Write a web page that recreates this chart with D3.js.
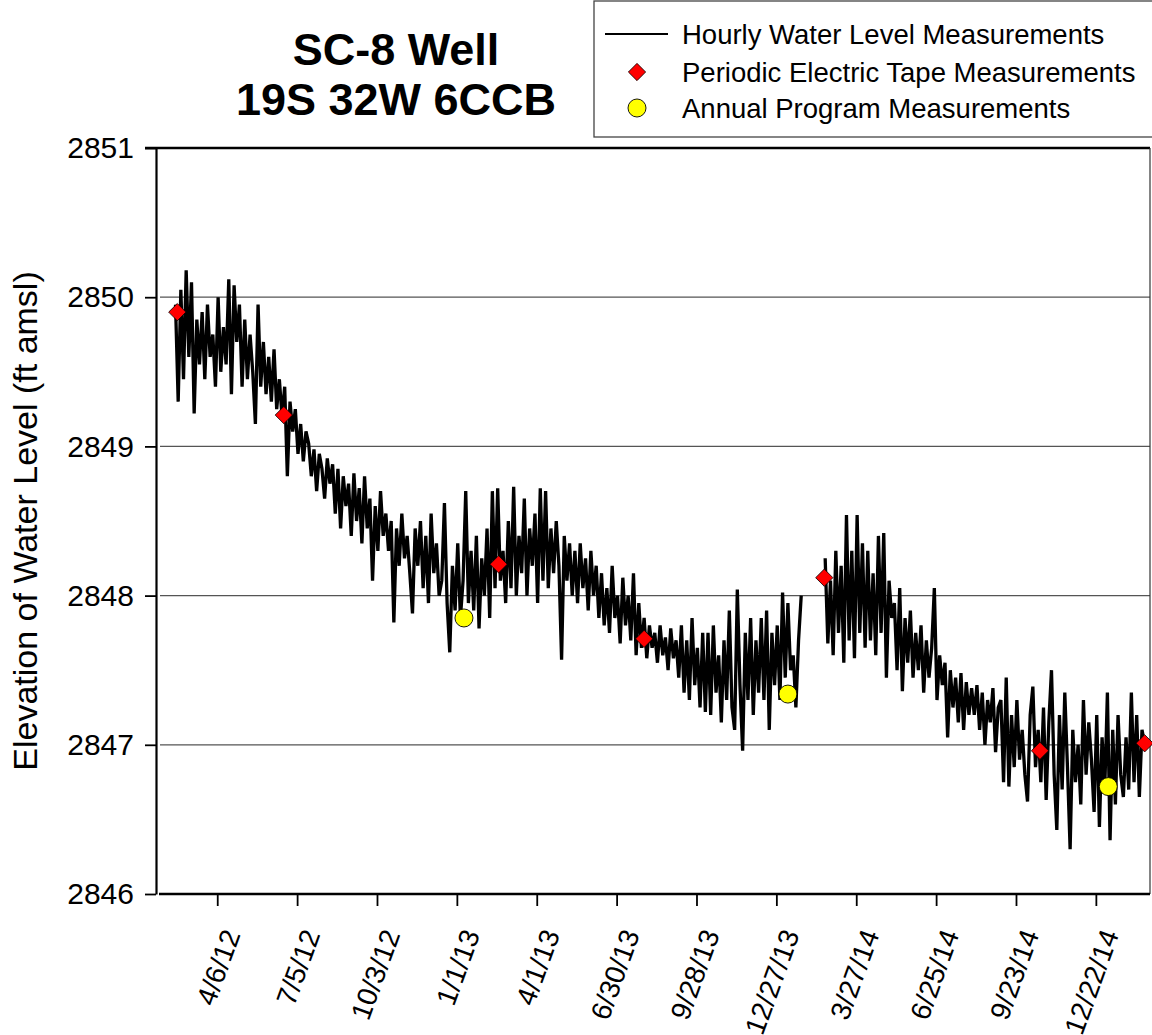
<!DOCTYPE html>
<html>
<head>
<meta charset="utf-8">
<script src="https://cdn.jsdelivr.net/npm/d3@7"></script>
<style>
  body { margin: 0; background: #fff; }
  svg { display: block; font-family: "Liberation Sans", Arial, sans-serif; }
</style>
</head>
<body>
<svg id="chart" width="1152" height="1035"></svg>
<script>
// hourly record, sampled every 3 days starting 2/19/12 (null = logger gap)
const hourlyStart = "2/19/12";
const hourlyStepDays = 3;
const hourlyLevels = [
  2849.95, 2849.30, 2850.05, 2849.45, 2850.18, 2849.60, 2850.10, 2849.22, 2849.85, 2849.55,
  2849.90, 2849.45, 2849.95, 2849.60, 2849.75, 2849.40, 2850.00, 2849.50, 2849.80, 2849.55,
  2850.12, 2849.35, 2850.08, 2849.70, 2849.95, 2849.40, 2849.85, 2849.45, 2849.75, 2849.50,
  2849.15, 2849.95, 2849.40, 2849.70, 2849.35, 2849.60, 2849.30, 2849.65, 2849.25, 2849.45,
  2849.20, 2849.40, 2848.80, 2849.30, 2849.10, 2849.25, 2848.95, 2849.15, 2848.90, 2849.10,
  2849.02, 2848.80, 2848.98, 2848.70, 2848.95, 2848.85, 2848.65, 2848.92, 2848.75, 2848.88,
  2848.55, 2848.85, 2848.45, 2848.80, 2848.60, 2848.75, 2848.40, 2848.82, 2848.50, 2848.72,
  2848.35, 2848.80, 2848.45, 2848.65, 2848.10, 2848.60, 2848.30, 2848.70, 2848.40, 2848.55,
  2848.30, 2848.50, 2847.82, 2848.45, 2848.20, 2848.55, 2848.25, 2848.40, 2848.15, 2847.88,
  2848.45, 2848.20, 2848.50, 2848.05, 2848.40, 2847.95, 2848.55, 2848.15, 2848.35, 2848.00,
  2848.10, 2848.62, 2847.95, 2847.62, 2848.20, 2847.90, 2848.35, 2847.85, 2848.10, 2848.70,
  2847.95, 2848.30, 2847.90, 2848.40, 2847.78, 2848.25, 2848.00, 2848.45, 2847.85, 2848.70,
  2848.05, 2848.72, 2848.10, 2848.30, 2847.95, 2848.50, 2848.05, 2848.73, 2848.00, 2848.40,
  2848.15, 2848.65, 2848.00, 2848.45, 2848.20, 2848.55, 2847.95, 2848.72, 2848.10, 2848.70,
  2848.05, 2848.45, 2848.15, 2848.50, 2848.20, 2847.57, 2848.40, 2848.10, 2848.35, 2848.00,
  2848.30, 2847.95, 2848.35, 2848.05, 2848.25, 2847.90, 2848.30, 2848.00, 2848.20, 2847.85,
  2848.15, 2847.80, 2848.05, 2847.75, 2848.20, 2847.85, 2848.00, 2847.68, 2848.12, 2847.80,
  2848.00, 2847.70, 2848.15, 2847.60, 2847.95, 2847.65, 2847.85, 2847.58, 2847.80, 2847.65,
  2847.75, 2847.55, 2847.80, 2847.60, 2847.72, 2847.50, 2847.78, 2847.58, 2847.70, 2847.45,
  2847.80, 2847.35, 2847.70, 2847.30, 2847.85, 2847.40, 2847.65, 2847.25, 2847.75, 2847.22,
  2847.75, 2847.20, 2847.80, 2847.35, 2847.60, 2847.15, 2847.70, 2847.30, 2847.90, 2847.25,
  2847.10, 2848.04, 2847.40, 2846.96, 2847.75, 2847.30, 2847.85, 2847.20, 2847.70, 2847.35,
  2847.85, 2847.30, 2847.90, 2847.10, 2847.75, 2847.40, 2847.80, 2847.30, 2848.02, 2847.45,
  2847.95, 2847.50, 2847.60, 2847.25, 2847.70, 2848.00, null, null, null, null,
  null, null, null, null, 2848.25, 2847.68, 2848.10, 2847.60, 2848.30, 2847.75,
  2848.20, 2847.55, 2848.54, 2847.70, 2848.30, 2847.58, 2848.54, 2847.75, 2848.35, 2847.65,
  2848.30, 2847.70, 2848.15, 2847.60, 2848.40, 2847.75, 2848.42, 2847.45, 2848.10, 2847.85,
  2847.95, 2847.50, 2848.05, 2847.36, 2847.85, 2847.55, 2847.90, 2847.45, 2847.75, 2847.50,
  2847.80, 2847.35, 2847.70, 2847.45, 2847.65, 2848.05, 2847.30, 2847.60, 2847.40, 2847.55,
  2847.05, 2847.50, 2847.25, 2847.45, 2847.15, 2847.48, 2847.10, 2847.42, 2847.20, 2847.38,
  2847.20, 2847.40, 2847.10, 2847.35, 2847.00, 2847.30, 2847.15, 2847.38, 2846.95, 2847.25,
  2847.30, 2846.75, 2847.45, 2846.72, 2847.20, 2846.85, 2847.30, 2846.90, 2847.10, 2846.80,
  2846.62, 2847.20, 2847.39, 2846.85, 2847.10, 2846.75, 2847.25, 2846.63, 2847.15, 2847.50,
  2846.80, 2846.43, 2847.20, 2846.70, 2847.35, 2846.85, 2846.30, 2847.10, 2846.75, 2847.00,
  2846.60, 2847.30, 2846.80, 2847.15, 2846.90, 2846.55, 2847.20, 2846.45, 2847.05, 2846.70,
  2847.35, 2846.36, 2847.10, 2846.60, 2847.20, 2846.80, 2846.65, 2847.05, 2846.70, 2847.35,
  2846.75, 2847.20, 2846.65, 2847.10, 2847.00
];

const tapeDates = ["2/21/12", "6/20/12", "2/17/13", "7/31/13", "2/19/14", "10/20/14", "2/15/15"];
const tapeLevels = [2849.90, 2849.21, 2848.21, 2847.71, 2848.12, 2846.96, 2847.01];

const annualDates = ["1/9/13", "1/9/14", "1/5/15"];
const annualLevels = [2847.85, 2847.34, 2846.72];

const xTickLabels = ["4/6/12", "7/5/12", "10/3/12", "1/1/13", "4/1/13", "6/30/13",
  "9/28/13", "12/27/13", "3/27/14", "6/25/14", "9/23/14", "12/22/14"];
const yTicks = [2846, 2847, 2848, 2849, 2850, 2851];
const xExtent = ["1/28/12", "2/21/15"];

const titleLines = ["SC-8 Well", "19S 32W 6CCB"];
const yTitle = "Elevation of Water Level (ft amsl)";
const legendLabels = ["Hourly Water Level Measurements", "Periodic Electric Tape Measurements", "Annual Program Measurements"];

const parse = d3.timeParse("%m/%d/%y");
const fmt = d3.timeFormat("%-m/%-d/%y");

const svg = d3.select("#chart");
const plotL = 156, plotR = 1150, plotT = 148, plotB = 894;

const x = d3.scaleTime().domain(xExtent.map(parse)).range([plotL, plotR]);
const y = d3.scaleLinear().domain([2846, 2851]).range([plotB, plotT]);

const t0 = parse(hourlyStart);
const hourly = hourlyLevels.map((v, i) => ({ date: d3.timeDay.offset(t0, i * hourlyStepDays), value: v }));
const tape = tapeDates.map((d, i) => ({ date: parse(d), value: tapeLevels[i] }));
const annual = annualDates.map((d, i) => ({ date: parse(d), value: annualLevels[i] }));

// gridlines
svg.append("g")
  .selectAll("line")
  .data(yTicks.filter(v => v > 2846 && v < 2851))
  .join("line")
  .attr("x1", plotL + 4).attr("x2", plotR)
  .attr("y1", d => y(d)).attr("y2", d => y(d))
  .attr("stroke", "#555").attr("stroke-width", 1.3);

// frame: top + right
svg.append("line").attr("x1", plotL - 11).attr("x2", plotR).attr("y1", plotT).attr("y2", plotT)
  .attr("stroke", "#000").attr("stroke-width", 2.5);
svg.append("line").attr("x1", plotR).attr("x2", plotR).attr("y1", plotT).attr("y2", plotB)
  .attr("stroke", "#333").attr("stroke-width", 1.2);

// y axis
const yAxis = svg.append("g")
  .attr("transform", `translate(${plotL},0)`)
  .call(d3.axisLeft(y).tickValues(yTicks).tickFormat(d3.format("d")).tickSize(11).tickSizeOuter(0).tickPadding(11));
yAxis.select(".domain").attr("stroke-width", 2.2);
yAxis.selectAll(".tick line").attr("stroke-width", 1.8);
yAxis.selectAll(".tick text").attr("font-size", 30).attr("fill", "#000").attr("font-family", "Liberation Sans, Arial, sans-serif");

// x axis
const xAxis = svg.append("g")
  .attr("transform", `translate(0,${plotB})`)
  .call(d3.axisBottom(x).tickValues(xTickLabels.map(parse)).tickFormat(fmt).tickSize(12).tickSizeOuter(0));
xAxis.select(".domain").remove();
xAxis.append("line").attr("x1", plotL + 3).attr("x2", plotR).attr("stroke", "#000").attr("stroke-width", 2.5);
xAxis.selectAll(".tick line").attr("stroke-width", 1.8);
xAxis.selectAll(".tick text")
  .attr("font-size", 28).attr("fill", "#000").attr("font-family", "Liberation Sans, Arial, sans-serif")
  .attr("text-anchor", "end")
  .attr("y", 0).attr("dy", 0)
  .attr("transform", "translate(23,40) rotate(-70)");

// hourly line
const line = d3.line()
  .defined(d => d.value !== null)
  .x(d => x(d.date))
  .y(d => y(d.value));
svg.append("path")
  .datum(hourly)
  .attr("fill", "none")
  .attr("stroke", "#000")
  .attr("stroke-width", 3.3)
  .attr("stroke-linejoin", "miter")
  .attr("d", line);

// markers
const diamond = d3.symbol().type(d3.symbolDiamond2).size(190);
svg.append("g").selectAll("path")
  .data(tape)
  .join("path")
  .attr("transform", d => `translate(${x(d.date)},${y(d.value)})`)
  .attr("d", diamond)
  .attr("fill", "#ff0000").attr("stroke", "#000").attr("stroke-width", 0.8);

svg.append("g").selectAll("circle")
  .data(annual)
  .join("circle")
  .attr("cx", d => x(d.date)).attr("cy", d => y(d.value)).attr("r", 9)
  .attr("fill", "#ffff00").attr("stroke", "#000").attr("stroke-width", 0.9);

// titles
svg.append("text")
  .attr("transform", `translate(37,${(plotT + plotB) / 2}) rotate(-90)`)
  .attr("text-anchor", "middle").attr("font-size", 34)
  .text(yTitle);

svg.append("g").selectAll("text")
  .data(titleLines)
  .join("text")
  .attr("x", 396).attr("y", (d, i) => 65 + i * 50)
  .attr("text-anchor", "middle").attr("font-weight", "bold").attr("font-size", 45)
  .text(d => d);

// legend
const lg = svg.append("g");
lg.append("rect").attr("x", 594).attr("y", 1).attr("width", 580).attr("height", 136)
  .attr("fill", "#fff").attr("stroke", "#444").attr("stroke-width", 1.3);
const rowY = [34, 72, 108];
lg.append("line").attr("x1", 605).attr("x2", 668).attr("y1", rowY[0]).attr("y2", rowY[0])
  .attr("stroke", "#000").attr("stroke-width", 2.2);
lg.append("path").attr("transform", `translate(637,${rowY[1]})`).attr("d", diamond)
  .attr("fill", "#ff0000").attr("stroke", "#000").attr("stroke-width", 0.8);
lg.append("circle").attr("cx", 637).attr("cy", rowY[2]).attr("r", 9)
  .attr("fill", "#ffff00").attr("stroke", "#000").attr("stroke-width", 0.9);
lg.selectAll("text.item")
  .data(legendLabels)
  .join("text")
  .attr("class", "item")
  .attr("x", 682).attr("y", (d, i) => rowY[i] + 9.5)
  .attr("font-size", 27.5)
  .text(d => d);
</script>
</body>
</html>
